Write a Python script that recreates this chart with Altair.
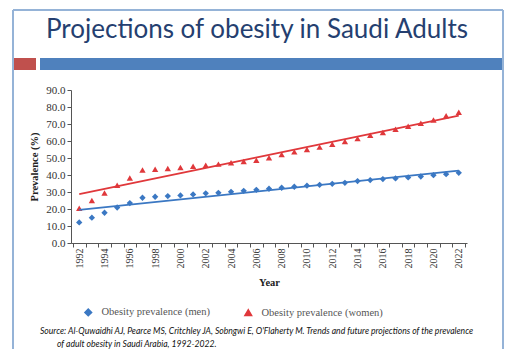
import altair as alt
import pandas as pd

# Observed and projected obesity prevalence (%), Saudi adults
years = list(range(1992, 2023))
men = [12.1, 14.9, 17.8, 20.9, 23.5, 26.6, 27.2, 27.6, 28.0, 28.6, 29.2, 29.5,
       30.1, 30.7, 31.3, 31.9, 32.5, 33.1, 33.7, 34.2, 34.8, 35.4, 36.4, 37.0,
       37.6, 38.0, 38.6, 39.1, 39.9, 40.5, 41.3]
women = [20.5, 25.0, 29.4, 34.0, 38.2, 42.9, 43.4, 43.8, 44.4, 45.2, 45.8, 46.4,
         47.2, 47.9, 48.7, 50.1, 52.0, 53.6, 55.0, 56.4, 58.1, 59.7, 61.4, 63.4,
         65.0, 66.9, 68.7, 70.4, 72.4, 74.8, 76.9]
series_names = ["Obesity prevalence (men)", "Obesity prevalence (women)"]
series_colors = ["#3b78c3", "#e0383b"]
series_shapes = ["diamond", "triangle-up"]
year_labels = list(range(1992, 2023, 2))
band_edges = [y - 0.5 for y in range(1992, 2024)]
y_ticks = list(range(0, 91, 10))

title_text = "Projections of obesity in Saudi Adults"
source_lines = [
    "Source: Al-Quwaidhi AJ, Pearce MS, Critchley JA, Sobngwi E, O'Flaherty M. Trends and future projections of the prevalence",
    "of adult obesity in Saudi Arabia, 1992-2022.",
]

df = pd.DataFrame({
    "year": years * 2,
    "value": men + women,
    "series": [series_names[0]] * len(years) + [series_names[1]] * len(years),
})

SERIF = "Liberation Serif"
x_scale = alt.Scale(domain=[1991.35, 2022.65], nice=False, zero=False)
y_scale = alt.Scale(domain=[0, 90], nice=False)
color_scale = alt.Scale(domain=series_names, range=series_colors)
shape_scale = alt.Scale(domain=series_names, range=series_shapes)

y_axis = alt.Axis(values=y_ticks, format=".1f", labelOverlap=False,
                  title="Prevalence (%)", titleFont=SERIF, titleFontSize=10.5,
                  titleFontWeight="bold", titleColor="#222", titlePadding=6,
                  labelFont=SERIF, labelFontSize=11, labelColor="#333",
                  labelPadding=2, tickSize=4, tickColor="#555",
                  domainColor="#555", grid=False)

series_legend = alt.Legend(title=None)

base = alt.Chart(df)

# year ticks sit on the band edges; the labels sit on every other year
points = base.mark_point(filled=True, opacity=1, size=40).encode(
    x=alt.X("year:Q", scale=x_scale,
            axis=alt.Axis(orient="bottom", values=band_edges, labels=False,
                          title=None, grid=False, tickSize=4, tickColor="#555",
                          domainColor="#555")),
    y=alt.Y("value:Q", scale=y_scale, axis=y_axis),
    color=alt.Color("series:N", scale=color_scale, legend=series_legend),
    shape=alt.Shape("series:N", scale=shape_scale, legend=series_legend),
)

trend = base.transform_regression(
    "year", "value", groupby=["series"]
).mark_line(strokeWidth=1.8).encode(
    x=alt.X("year:Q", scale=x_scale,
            axis=alt.Axis(orient="bottom", values=year_labels, format="d",
                          labelAngle=270, labelFont=SERIF, labelFontSize=10,
                          labelColor="#333", labelPadding=5, ticks=False,
                          domain=False, grid=False, title="Year", titleFont=SERIF,
                          titleFontSize=10.5, titleFontWeight="bold",
                          titleColor="#222", titlePadding=9)),
    y=alt.Y("value:Q", scale=y_scale, axis=y_axis),
    stroke=alt.Stroke("series:N", scale=alt.Scale(domain=series_names, range=series_colors),
                      legend=None),
)

one = alt.Data(values=[{}])
FRAME = "#95b3d7"

frame_top = alt.Chart(one).mark_rule(color=FRAME, strokeWidth=2).encode(
    x=alt.value(-58), x2=alt.value(432), y=alt.value(-80))
frame_left = alt.Chart(one).mark_rule(color=FRAME, strokeWidth=2).encode(
    x=alt.value(-58), y=alt.value(-80), y2=alt.value(262))
frame_right = alt.Chart(one).mark_rule(color=FRAME, strokeWidth=2).encode(
    x=alt.value(432), y=alt.value(-80), y2=alt.value(262))
red_block = alt.Chart(one).mark_rect(color="#c0504d").encode(
    x=alt.value(-57), x2=alt.value(-35), y=alt.value(-32), y2=alt.value(-20))
blue_bar = alt.Chart(one).mark_rect(color="#4f81bd").encode(
    x=alt.value(-31), x2=alt.value(431), y=alt.value(-32), y2=alt.value(-20))

heading = alt.Chart(one).mark_text(
    text=title_text, font="Lato", fontSize=26, color="#253f70",
    align="center", baseline="alphabetic").encode(
    x=alt.value(186), y=alt.value(-52))

source1 = alt.Chart(one).mark_text(
    text=source_lines[0], font="Lato", fontStyle="italic", fontSize=8.6,
    color="#111", align="left", baseline="middle").encode(
    x=alt.value(-31), y=alt.value(240.5))
source2 = alt.Chart(one).mark_text(
    text=source_lines[1], font="Lato", fontStyle="italic", fontSize=8.6,
    color="#111", align="left", baseline="middle").encode(
    x=alt.value(-14), y=alt.value(254))

chart = alt.layer(
    points, trend, frame_top, frame_left, frame_right, red_block, blue_bar,
    heading, source1, source2,
).resolve_axis(x="independent").properties(
    width=396, height=153,
    autosize=alt.AutoSizeParams(type="none"),
    padding={"left": 71, "top": 90, "right": 39, "bottom": 106},
    background="white",
).configure_view(stroke=None).configure_legend(
    orient="none", legendX=12, legendY=217, direction="horizontal",
    labelFont=SERIF, labelFontSize=10.5, labelColor="#555",
    symbolSize=45, columnPadding=31, labelOffset=8,
)

chart.save("out.html", embed_options={"renderer": "svg", "actions": False})
